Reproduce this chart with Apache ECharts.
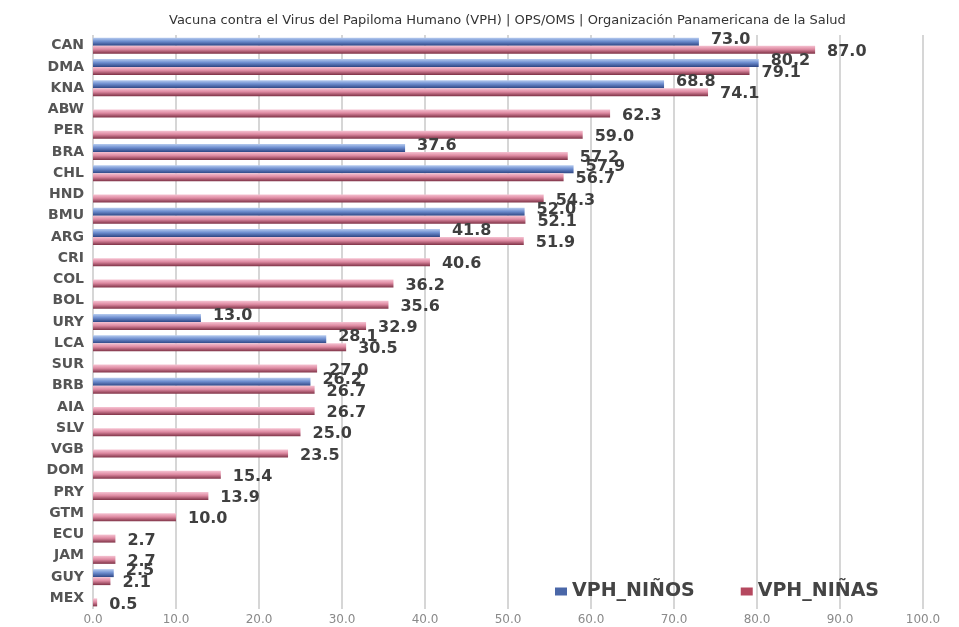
<!DOCTYPE html>
<html>
<head>
<meta charset="utf-8">
<script src="https://cdn.jsdelivr.net/npm/echarts@6/dist/echarts.min.js"></script>
<style>
  html, body { margin: 0; padding: 0; background: #fff; }
  #chart { width: 959px; height: 627px; }
</style>
</head>
<body>
<div id="chart"></div>
<script>
const countries = ['CAN', 'DMA', 'KNA', 'ABW', 'PER', 'BRA', 'CHL', 'HND', 'BMU', 'ARG', 'CRI', 'COL', 'BOL', 'URY',
  'LCA', 'SUR', 'BRB', 'AIA', 'SLV', 'VGB', 'DOM', 'PRY', 'GTM', 'ECU', 'JAM', 'GUY', 'MEX']

const ninos = [73.0, 80.2, 68.8, null, null, 37.6, 57.9, null, 52.0, 41.8, null, null, null, 13.0,
  28.1, null, 26.2, null, null, null, null, null, null, null, null, 2.5, null]

const ninas = [87.0, 79.1, 74.1, 62.3, 59.0, 57.2, 56.7, 54.3, 52.1, 51.9, 40.6, 36.2, 35.6, 32.9,
  30.5, 27.0, 26.7, 26.7, 25.0, 23.5, 15.4, 13.9, 10.0, 2.7, 2.7, 2.1, 0.5]

const xTicks = { min: 0, max: 100, interval: 10 }

const LABEL_FONT = 'DejaVu Sans, Verdana, sans-serif'

function barGradient(top, mid, bottom) {
  return new echarts.graphic.LinearGradient(0, 0, 0, 1, [
    { offset: 0, color: top },
    { offset: 0.45, color: mid },
    { offset: 1, color: bottom },
  ])
}

function valueLabel(offsetY) {
  return {
    show: true,
    position: 'right',
    distance: 12,
    offset: [0, offsetY],
    color: '#3f3f3f',
    fontFamily: LABEL_FONT,
    fontWeight: 'bold',
    fontSize: 16,
    formatter: ({ value }) => (value == null ? '' : value.toFixed(1)),
  }
}

const chart = echarts.init(document.getElementById('chart'))
chart.setOption({
  animation: false,
  backgroundColor: '#ffffff',
  title: {
    text: 'Vacuna contra el Virus del Papiloma Humano (VPH) | OPS/OMS | Organización Panamericana de la Salud',
    left: 164,
    top: 9,
    textStyle: {
      color: '#333',
      fontFamily: LABEL_FONT,
      fontWeight: 'normal',
      fontSize: 13,
    },
  },
  legend: {
    left: 550,
    top: 577,
    itemWidth: 12,
    itemHeight: 8,
    itemGap: 46,
    icon: 'rect',
    textStyle: {
      color: '#444',
      fontFamily: LABEL_FONT,
      fontWeight: 'bold',
      fontSize: 19,
    },
    data: [
      { name: 'VPH_NIÑOS', itemStyle: { color: '#4a67a8' } },
      { name: 'VPH_NIÑAS', itemStyle: { color: '#b5485f' } },
    ],
  },
  grid: {
    left: 93,
    right: 36,
    top: 35,
    bottom: 18,
  },
  xAxis: {
    type: 'value',
    min: xTicks.min,
    max: xTicks.max,
    interval: xTicks.interval,
    axisLine: { show: false },
    axisTick: { show: false },
    axisLabel: {
      color: '#8a8a8a',
      fontFamily: LABEL_FONT,
      fontSize: 12,
      margin: 5,
      formatter: (value) => value.toFixed(1),
    },
    splitLine: {
      show: true,
      lineStyle: { color: '#d6d6d6', width: 2 },
    },
  },
  yAxis: {
    type: 'category',
    inverse: true,
    data: countries,
    axisLine: { show: false },
    axisTick: { show: false },
    axisLabel: {
      color: '#555',
      fontFamily: LABEL_FONT,
      fontWeight: 'bold',
      fontSize: 14,
      margin: 9,
    },
  },
  series: [
    {
      name: 'VPH_NIÑOS',
      type: 'bar',
      data: ninos,
      barWidth: 8,
      barGap: '0%',
      itemStyle: { color: barGradient('#b8cdf0', '#6f8fd0', '#2e4684') },
      label: valueLabel(-2),
    },
    {
      name: 'VPH_NIÑAS',
      type: 'bar',
      data: ninas,
      barWidth: 8,
      barGap: '0%',
      itemStyle: { color: barGradient('#f6c3d2', '#de8aa2', '#7f3246') },
      label: valueLabel(2),
    },
  ],
})
</script>
</body>
</html>
